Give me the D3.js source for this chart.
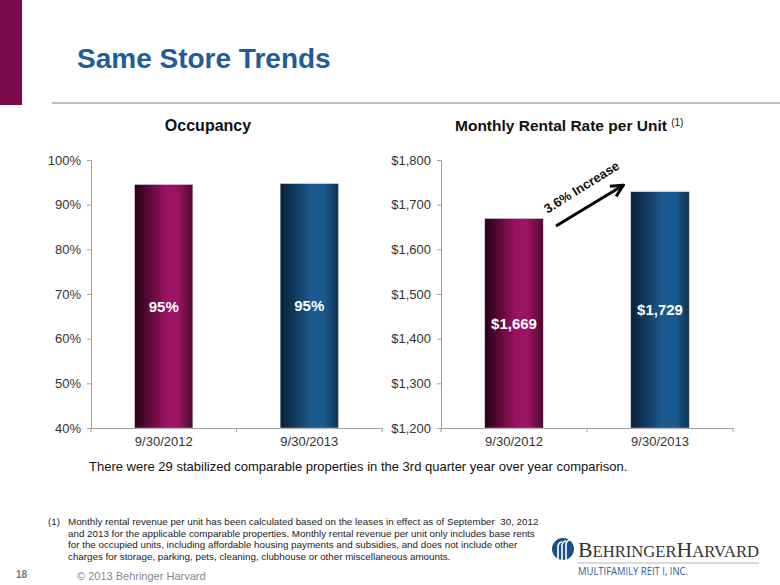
<!DOCTYPE html>
<html>
<head>
<meta charset="utf-8">
<script src="https://cdn.jsdelivr.net/npm/d3@7"></script>
<style>
  body { margin: 0; background: #fff; }
  text { font-family: "Liberation Sans", Arial, sans-serif; }
</style>
</head>
<body>
<div id="slide"></div>
<script>
// data
var dates = ["9/30/2012", "9/30/2013"];
var occupancy = [94.5, 94.7];
var occupancyLabels = ["95%", "95%"];
var occTicks = [40, 50, 60, 70, 80, 90, 100];
var rent = [1669, 1729];
var rentLabels = ["$1,669", "$1,729"];
var rentTicks = [1200, 1300, 1400, 1500, 1600, 1700, 1800];
var footnoteLines = [
  "Monthly rental revenue per unit has been calculated based on the leases in effect as of September  30, 2012",
  "and 2013 for the applicable comparable properties. Monthly rental revenue per unit only includes base rents",
  "for the occupied units, including affordable housing payments and subsidies, and does not include other",
  "charges for storage, parking, pets, cleaning, clubhouse or other miscellaneous amounts."
];

var W = 780, H = 585;
var svg = d3.select("#slide").append("svg")
    .attr("width", W).attr("height", H);

var defs = svg.append("defs");
function barGradient(id, edge, mid, right) {
  var g = defs.append("linearGradient").attr("id", id)
      .attr("x1", "0%").attr("x2", "100%").attr("y1", "0%").attr("y2", "0%");
  g.append("stop").attr("offset", "0%").attr("stop-color", edge);
  g.append("stop").attr("offset", "55%").attr("stop-color", mid);
  g.append("stop").attr("offset", "75%").attr("stop-color", mid);
  g.append("stop").attr("offset", "100%").attr("stop-color", right);
}
barGradient("maroon", "#2a0016", "#9c1262", "#4a0a2e");
barGradient("blue", "#0a1f36", "#1b5a8e", "#0f3354");
var fills = ["url(#maroon)", "url(#blue)"];

// header
svg.append("rect").attr("x", 0).attr("y", 0).attr("width", 22).attr("height", 105)
    .attr("fill", "#7a0a48");
svg.append("line").attr("x1", 52).attr("x2", W).attr("y1", 103).attr("y2", 103)
    .attr("stroke", "#bdbdbd").attr("stroke-width", 2);
svg.append("text").attr("x", 77).attr("y", 68)
    .text("Same Store Trends")
    .style("font-size", "28px").style("font-weight", "bold").attr("fill", "#1f5c99");

// draws one bar chart panel
function panel(opts) {
  var x = d3.scaleBand().domain(dates).range([opts.x0, opts.x1]);
  var y = d3.scaleLinear().domain(opts.domain).range([428, 160]);

  var yAxis = svg.append("g")
      .attr("transform", "translate(" + opts.x0 + ",0)")
      .call(d3.axisLeft(y).tickValues(opts.ticks).tickFormat(opts.fmt).tickSize(4).tickPadding(6));
  var xAxis = svg.append("g")
      .attr("transform", "translate(0,428)")
      .call(d3.axisBottom(x).tickSize(0).tickPadding(9));
  // boundary ticks on the x axis
  svg.selectAll(null).data([opts.x0, (opts.x0 + opts.x1) / 2, opts.x1]).enter()
    .append("line")
      .attr("x1", function(d) { return d; }).attr("x2", function(d) { return d; })
      .attr("y1", 428).attr("y2", 432)
      .attr("stroke", "#a0a0a0");

  [yAxis, xAxis].forEach(function(a) {
    a.select(".domain").attr("stroke", "#a0a0a0");
    a.selectAll(".tick line").attr("stroke", "#a0a0a0");
    a.selectAll(".tick text").style("font-size", "13px").attr("fill", "#333")
      .style("font-family", "'Liberation Sans', Arial, sans-serif");
  });

  var bw = x.bandwidth() * 0.4;
  svg.selectAll(null).data(opts.values).enter()
    .append("rect")
      .attr("x", function(d, i) { return x(dates[i]) + x.bandwidth() / 2 - bw / 2; })
      .attr("y", function(d) { return y(d); })
      .attr("width", bw)
      .attr("height", function(d) { return 428 - y(d); })
      .attr("fill", function(d, i) { return fills[i]; })
      .attr("stroke", "#c9d2dc").attr("stroke-width", 0.5);

  svg.selectAll(null).data(opts.values).enter()
    .append("text")
      .attr("x", function(d, i) { return x(dates[i]) + x.bandwidth() / 2; })
      .attr("y", function(d) { return (y(d) + 428) / 2; })
      .attr("dy", "0.35em")
      .attr("text-anchor", "middle")
      .text(function(d, i) { return opts.labels[i]; })
      .style("font-size", "15px").style("font-weight", "bold").attr("fill", "#fff");

  return {x: x, y: y};
}

panel({x0: 91, x1: 382, domain: [40, 100], ticks: occTicks,
       fmt: function(d) { return d + "%"; }, values: occupancy, labels: occupancyLabels});
panel({x0: 441, x1: 733, domain: [1200, 1800], ticks: rentTicks,
       fmt: function(d) { return "$" + d3.format(",")(d); }, values: rent, labels: rentLabels});

// panel titles
svg.append("text").attr("x", 208).attr("y", 131).attr("text-anchor", "middle")
    .text("Occupancy").style("font-size", "16px").style("font-weight", "bold").attr("fill", "#111");
var t2 = svg.append("text").attr("x", 455).attr("y", 131)
    .style("font-size", "15.5px").style("font-weight", "bold").attr("fill", "#111");
t2.append("tspan").text("Monthly Rental Rate per Unit ");
t2.append("tspan").text("(1)").attr("dy", -5).style("font-size", "10px").style("font-weight", "normal");

// increase arrow between the two rent bars
defs.append("marker").attr("id", "head").attr("viewBox", "0 0 10 10")
    .attr("refX", 8).attr("refY", 5).attr("markerWidth", 5).attr("markerHeight", 5)
    .attr("orient", "auto")
  .append("path").attr("d", "M1,1 L9,5 L1,9").attr("fill", "none")
    .attr("stroke", "#000").attr("stroke-width", 2);
svg.append("line").attr("x1", 556).attr("y1", 226).attr("x2", 622).attr("y2", 186)
    .attr("stroke", "#000").attr("stroke-width", 3).attr("marker-end", "url(#head)");
svg.append("text")
    .attr("transform", "translate(584,191) rotate(-32)")
    .attr("text-anchor", "middle")
    .text("3.6% Increase")
    .style("font-size", "13px").style("font-weight", "bold").attr("fill", "#111");

// comment line and footnote
svg.append("text").attr("x", 89).attr("y", 471)
    .text("There were 29 stabilized comparable properties in the 3rd quarter year over year comparison.")
    .style("font-size", "13px").attr("fill", "#111");
svg.append("text").attr("x", 48).attr("y", 525).text("(1)")
    .style("font-size", "9.8px").attr("fill", "#222");
svg.selectAll(null).data(footnoteLines).enter()
  .append("text")
    .attr("x", 68).attr("y", function(d, i) { return 525 + i * 11.6; })
    .text(function(d) { return d; })
    .style("white-space", "pre")
    .style("font-size", "9.8px").attr("fill", "#222");

svg.append("text").attr("x", 16).attr("y", 578).text("18")
    .style("font-size", "10px").style("font-weight", "bold").attr("fill", "#777");
svg.append("text").attr("x", 77).attr("y", 580).text("\u00a9 2013 Behringer Harvard")
    .style("font-size", "11px").attr("fill", "#888");

// logo
var logo = svg.append("g");
logo.append("circle").attr("cx", 563).attr("cy", 549).attr("r", 11).attr("fill", "#1d4f80");
[[558, 6], [562, 8], [566, 10]].forEach(function(p) {
  logo.append("path")
    .attr("d", "M" + p[0] + "," + (560) + " L" + p[0] + "," + (549 - p[1] / 2) +
               " Q" + (p[0] + 1) + "," + (545 - p[1] / 2) + " " + (p[0] + 4) + "," + (545 - p[1] / 2))
    .attr("fill", "none").attr("stroke", "#fff").attr("stroke-width", 1.6);
});
var bh = logo.append("text").attr("x", 578).attr("y", 557)
    .attr("textLength", 181).attr("lengthAdjust", "spacingAndGlyphs")
    .style("font-family", "'Liberation Serif', 'DejaVu Serif', serif").attr("fill", "#333");
bh.append("tspan").text("B").style("font-size", "21px");
bh.append("tspan").text("EHRINGER").style("font-size", "16px");
bh.append("tspan").text("H").style("font-size", "21px");
bh.append("tspan").text("ARVARD").style("font-size", "16px");
logo.append("line").attr("x1", 578).attr("x2", 759).attr("y1", 563).attr("y2", 563)
    .attr("stroke", "#b5b5b5").attr("stroke-width", 1);
logo.append("text").attr("x", 578).attr("y", 575)
    .attr("textLength", 110).attr("lengthAdjust", "spacingAndGlyphs")
    .text("MULTIFAMILY REIT I, INC.")
    .style("font-size", "10.5px").style("font-family", "'Open Sans', sans-serif")
    .attr("fill", "#2b5c8c");
</script>
</body>
</html>
